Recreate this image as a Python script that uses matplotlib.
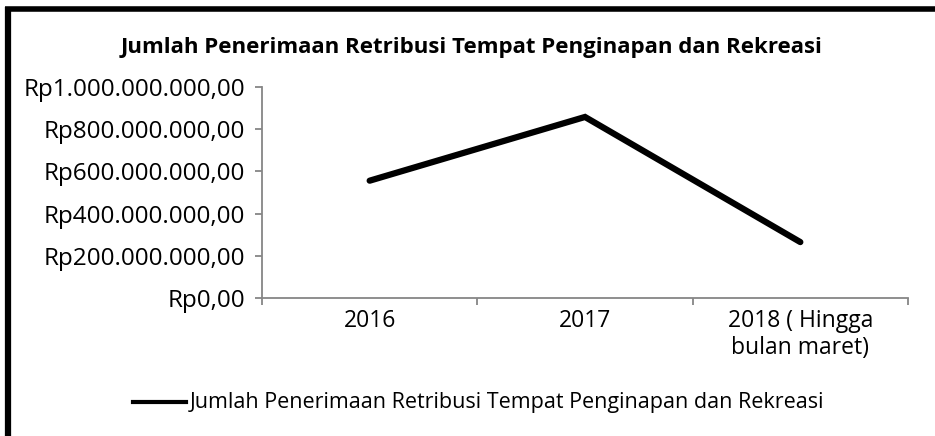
import matplotlib
matplotlib.use("Agg")
import matplotlib.pyplot as plt
from matplotlib.lines import Line2D
from matplotlib.ticker import FuncFormatter, FixedLocator

categories = ["2016", "2017", "2018 ( Hingga\nbulan maret)"]
values = [556_000_000, 858_000_000, 265_000_000]
yticks = [0, 200_000_000, 400_000_000, 600_000_000, 800_000_000, 1_000_000_000]
title = "Jumlah Penerimaan Retribusi Tempat Penginapan dan Rekreasi"
series_name = "Jumlah Penerimaan Retribusi Tempat Penginapan dan Rekreasi"

plt.rcParams['font.family'] = ['Open Sans', 'DejaVu Sans']

fig = plt.figure(figsize=(9.35, 4.36), dpi=100)
ax = fig.add_axes([262/935, 1-298/436, (908-262)/935, (298-87)/436])

x = list(range(len(categories)))
ax.plot(x, values, color='black', lw=4.5, solid_capstyle='round',
        solid_joinstyle='miter', label=series_name)

ax.set_xlim(-0.5, len(categories) - 0.5)
ax.set_ylim(0, 1_000_000_000)

def rp(v, pos):
    s = f"{int(round(v)):,}".replace(",", ".")
    return f"Rp{s},00"

ax.yaxis.set_major_locator(FixedLocator(yticks))
ax.yaxis.set_major_formatter(FuncFormatter(rp))
ax.xaxis.set_major_locator(FixedLocator([i - 0.5 for i in range(len(categories) + 1)]))
ax.xaxis.set_major_formatter(FuncFormatter(lambda v, p: ""))
ax.xaxis.set_minor_locator(FixedLocator(x))
ax.set_xticklabels(categories, minor=True)

gray = '#868686'
for s in ['top', 'right']:
    ax.spines[s].set_visible(False)
for s in ['left', 'bottom']:
    ax.spines[s].set_color(gray)
    ax.spines[s].set_linewidth(1.3)

ax.tick_params(axis='y', which='major', direction='out', length=5, width=1.3,
               color=gray, labelsize=17.5, pad=7, labelcolor='black')
ax.tick_params(axis='x', which='major', direction='out', length=5, width=1.3,
               color=gray)
ax.tick_params(axis='x', which='minor', length=0, labelsize=16.5, pad=8,
               labelcolor='black')
for lbl in ax.get_xticklabels(minor=True):
    lbl.set_linespacing(1.15)

fig.text(472/935, 1-47/436, title, ha='center', va='center',
         fontsize=16, fontweight='bold')

# legend
fig.add_artist(Line2D([133/935, 186/935], [1-402/436, 1-402/436],
                      color='black', lw=3, transform=fig.transFigure))
fig.text(190/935, 1-402/436, series_name, ha='left', va='center', fontsize=15.5)

# frame (top and left visible)
fig.add_artist(Line2D([5/935, 1.0], [1-9.5/436, 1-9.5/436], color='black',
                      lw=4, transform=fig.transFigure, solid_capstyle='butt'))
fig.add_artist(Line2D([8/935, 8/935], [0, 1-7/436], color='black',
                      lw=4.5, transform=fig.transFigure, solid_capstyle='butt'))

fig.savefig("out.png", dpi=100)
